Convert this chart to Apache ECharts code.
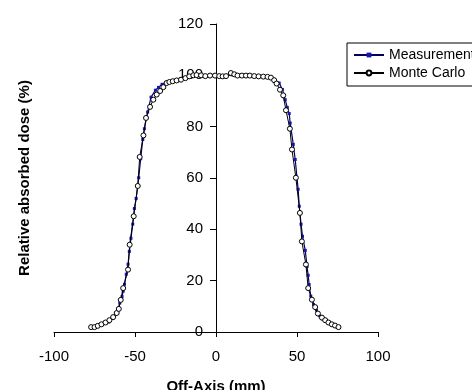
<!DOCTYPE html>
<html>
<head>
<meta charset="utf-8">
<script src="https://cdn.jsdelivr.net/npm/echarts@6/dist/echarts.min.js"></script>
<style>
  html, body { margin: 0; padding: 0; background: #fff; }
  #chart { width: 472px; height: 390px; }
</style>
</head>
<body>
<div id="chart"></div>
<script>
// off-axis position (mm) and relative dose (%) for each series
const measX = [-76, -72, -68, -66.2, -64, -62, -60.5, -59.4, -58, -57.3, -56.5, -55.4, -54.3, -53.5, -52.5, -51.4, -50.4, -49.3, -47.7, -46.5, -45.2, -44.2, -42.2, -40.1, -37.4, -35.5, -33.3, -30, -26, -22, -18, -14, -10, -6, -2, 2, 6, 10, 14, 18, 22, 26, 30, 33, 36, 39, 41, 42.7, 44, 45.2, 45.8, 47.7, 48.9, 50.7, 51.4, 52.5, 53.4, 55.1, 56.2, 56.9, 57.5, 58.5, 60.2, 62, 64, 66, 68, 70, 72, 74, 76];
const measY = [2.0, 2.6, 3.6, 3.9, 5.3, 6.8, 8.6, 11.3, 13.8, 15.9, 18.6, 22.5, 26.4, 31.4, 36.5, 42.0, 48.1, 52.0, 60.1, 67.5, 75.0, 79.2, 85.7, 91.5, 94.2, 95.3, 96.5, 97.5, 98.0, 98.6, 99.3, 99.8, 100.0, 99.8, 100.0, 99.9, 99.8, 100.2, 100.0, 99.9, 99.8, 99.7, 99.5, 99.2, 98.3, 97.0, 94.5, 90.5, 87.5, 85.1, 81.4, 73.1, 67.2, 55.6, 49.0, 42.0, 37.3, 31.8, 25.5, 22.1, 18.5, 14.0, 10.7, 8.5, 6.3, 5.0, 4.2, 3.4, 2.8, 2.3, 1.9];

const mcX = [-77.1, -75.0, -73.0, -70.7, -68.2, -65.8, -63.5, -61.3, -60.0, -58.8, -57.3, -54.3, -53.3, -50.8, -48.3, -47.1, -44.8, -43.2, -40.7, -38.7, -36.6, -34.5, -32.5, -30.5, -28.8, -26.7, -24.3, -21.6, -18.9, -16.5, -14.0, -12.0, -9.2, -6.6, -3.7, -0.6, 2.0, 4.1, 6.2, 9.2, 11.3, 13.3, 16.0, 18.5, 20.9, 23.6, 26.3, 29.2, 31.8, 33.9, 35.9, 37.4, 39.5, 41.5, 43.2, 45.6, 46.9, 49.3, 51.8, 53.0, 55.5, 56.9, 59.2, 61.2, 62.9, 65.4, 67.4, 69.4, 71.5, 73.5, 75.6];
const mcY = [1.9, 1.9, 2.4, 3.0, 3.7, 4.6, 5.8, 7.4, 9.0, 12.5, 17.1, 24.3, 34.0, 45.1, 56.9, 68.2, 76.6, 83.4, 87.7, 90.5, 92.5, 93.9, 95.4, 97.0, 97.4, 97.7, 98.0, 98.3, 98.9, 99.6, 100.0, 100.1, 100.0, 99.7, 99.9, 99.9, 99.7, 99.6, 99.7, 100.9, 100.4, 99.9, 99.9, 99.9, 99.9, 99.7, 99.6, 99.5, 99.4, 99.1, 98.1, 96.8, 94.4, 92.2, 86.4, 79.2, 71.1, 60.1, 46.4, 35.3, 26.3, 17.1, 12.6, 9.7, 7.2, 5.6, 4.6, 3.7, 3.0, 2.5, 1.9];

const xTicks = { min: -100, max: 100, step: 50 };
const yTicks = { min: 0, max: 120, step: 20 };

const pairs = (xs, ys) => xs.map((x, i) => [x, ys[i]]);
const font = 'Liberation Sans, Arial, sans-serif';

const chart = echarts.init(document.getElementById('chart'));

chart.setOption({
  animation: false,
  backgroundColor: '#fff',
  grid: { left: 54, right: 94, top: 24, bottom: 58, containLabel: false, outerBoundsMode: 'none' },
  legend: {
    orient: 'vertical',
    left: 347,
    top: 43,
    padding: [5, 40, 6, 6],
    itemWidth: 30,
    itemHeight: 6,
    itemGap: 4,
    borderColor: '#000',
    borderWidth: 1,
    textStyle: { fontFamily: font, fontSize: 14, color: '#000', lineHeight: 14 },
    data: ['Measurement', 'Monte Carlo'],
  },
  xAxis: {
    type: 'value',
    min: xTicks.min,
    max: xTicks.max,
    interval: xTicks.step,
    name: 'Off-Axis (mm)',
    nameLocation: 'middle',
    nameGap: 47,
    nameTextStyle: { fontFamily: font, fontSize: 15, fontWeight: 'bold', color: '#000' },
    axisLine: { lineStyle: { color: '#000', width: 1 } },
    axisTick: { length: 5, lineStyle: { color: '#000' } },
    axisLabel: { fontFamily: font, fontSize: 15, color: '#000', margin: 17 },
    splitLine: { show: false },
  },
  yAxis: {
    type: 'value',
    min: yTicks.min,
    max: yTicks.max,
    interval: yTicks.step,
    name: 'Relative absorbed dose (%)',
    nameLocation: 'middle',
    nameGap: 22,
    nameTextStyle: { fontFamily: font, fontSize: 15, fontWeight: 'bold', color: '#000' },
    axisLine: { onZero: true, lineStyle: { color: '#000', width: 1 } },
    axisTick: { length: 6, lineStyle: { color: '#000' } },
    // labels sit at the grid edge, so pull them back to the zero line
    axisLabel: { fontFamily: font, fontSize: 15, color: '#000', margin: -149 },
    splitLine: { show: false },
  },
  series: [
    {
      name: 'Measurement',
      type: 'line',
      data: pairs(measX, measY),
      symbol: 'rect',
      symbolSize: 3,
      lineStyle: { color: '#000060', width: 1.2 },
      itemStyle: { color: '#1515b0' },
      z: 2,
    },
    {
      name: 'Monte Carlo',
      type: 'line',
      data: pairs(mcX, mcY),
      symbol: 'circle',
      symbolSize: 5,
      lineStyle: { color: '#000', width: 1 },
      itemStyle: { color: '#fff', borderColor: '#000', borderWidth: 1 },
      z: 3,
    },
  ],
});
</script>
</body>
</html>
